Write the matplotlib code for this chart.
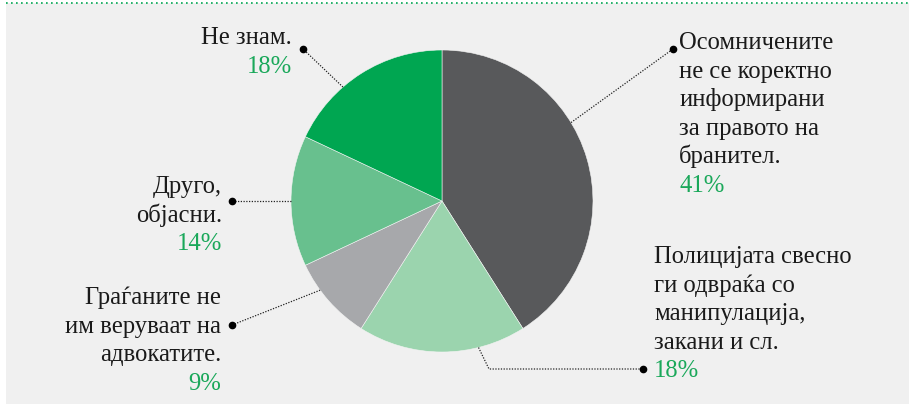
import numpy as np
import matplotlib.pyplot as plt
from matplotlib.patches import Rectangle

# survey answers, clockwise from the top of the pie
labels = [
    "Осомничените\nне се коректно\nинформирани\nза правото на\nбранител.",
    "Полицијата свесно\nги одвраќа со\nманипулација,\nзакани и сл.",
    "Граѓаните не\nим веруваат на\nадвокатите.",
    "Друго,\nобјасни.",
    "Не знам.",
]
values = [41, 18, 9, 14, 18]
colors = ["#58595b", "#9bd4ae", "#a7a8ab", "#68c08e", "#00a651"]

# label layout (pixels, y measured from the top)
anchor_deg = [58.7, 166, 233.8, 270, 319]       # where the leader leaves the pie
dot_xy = [(673, 49), (643, 369), (232, 325), (232, 201), (303, 49)]
text_x = [679, 654, 221, 222, 292]
text_y0 = [49, 263, 304, 193, 44]
text_ha = ["left", "left", "right", "right", "right"]
elbow = {1: (489, 369)}

W, H = 909, 407
LINE = 28.6
CX, CY, R = 442, 201, 151
TXT = "#1a1a1a"
GREEN = "#1aa85a"
FONT = "Liberation Serif"
FS = 17.7

fig = plt.figure(figsize=(W / 100, H / 100), dpi=100)
fig.patch.set_facecolor("white")
ax = fig.add_axes([0, 0, 1, 1])

ax.add_patch(Rectangle((6, H - 404), W - 6, 401, facecolor="#f0f0f0",
                       edgecolor="none", zorder=0))
ax.plot([6, W], [H - 3, H - 3], color="#00a651", lw=1.2,
        linestyle=(0, (1, 2)), zorder=1)

ax.pie(values, colors=colors, startangle=90, counterclock=False,
       center=(CX, H - CY), radius=R,
       wedgeprops=dict(edgecolor="#f4f4f4", linewidth=0.4))

for i, lab in enumerate(labels):
    a = np.radians(anchor_deg[i])
    px, py = CX + R * np.sin(a), H - (CY - R * np.cos(a))
    pts = [(px, py)]
    if i in elbow:
        ex, ey = elbow[i]
        pts.append((ex, H - ey))
    dx, dy = dot_xy[i]
    pts.append((dx, H - dy))
    xs, ys = zip(*pts)
    ax.plot(xs, ys, color="#222222", lw=0.9, linestyle=(0, (1, 1.2)), zorder=3)
    ax.plot(dx, H - dy, "o", color="black", ms=4.5, zorder=4)

    lines = lab.split("\n")
    for j, ln in enumerate(lines):
        ax.text(text_x[i], H - (text_y0[i] + j * LINE), ln, ha=text_ha[i],
                va="baseline", fontsize=FS, color=TXT, family=FONT)
    ax.text(text_x[i], H - (text_y0[i] + len(lines) * LINE), f"{values[i]}%",
            ha=text_ha[i], va="baseline", fontsize=FS, color=GREEN, family=FONT)

ax.set_xlim(0, W)
ax.set_ylim(0, H)
ax.set_aspect("auto")
ax.axis("off")

fig.savefig("out.png", dpi=100, facecolor="white")
